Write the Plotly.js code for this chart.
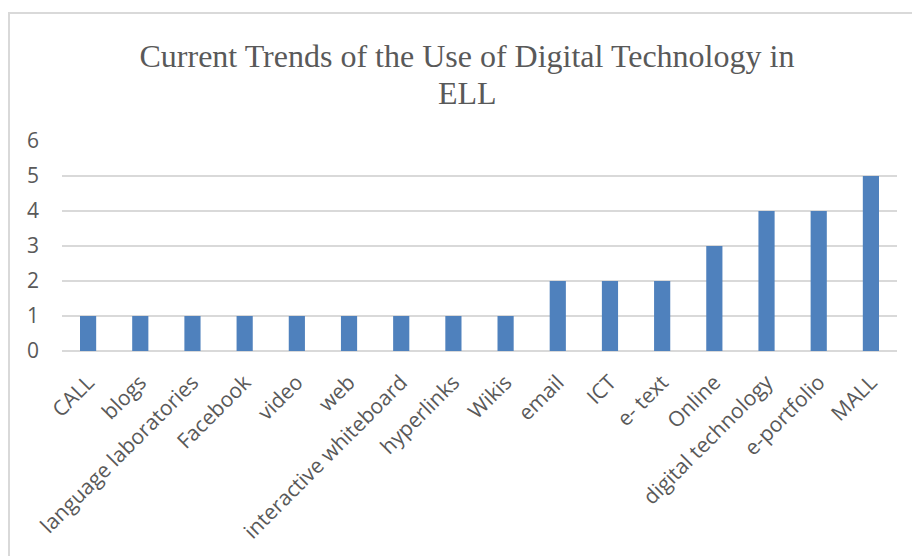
<!DOCTYPE html>
<html>
<head>
<meta charset="utf-8">
<script src="https://cdn.plot.ly/plotly-3.0.1.min.js"></script>
<style>
  html, body { margin: 0; padding: 0; background: #fff; }
  #wrap { position: relative; width: 912px; height: 556px; overflow: hidden; }
  #frame { position: absolute; left: 8px; top: 12px; width: 920px; height: 560px;
           border-left: 2px solid #d9d9d9; border-top: 2px solid #d9d9d9; pointer-events: none; }
  #chart { position: absolute; left: 0; top: 0; width: 912px; height: 556px; }
</style>
</head>
<body>
<div id="wrap">
  <div id="chart"></div>
  <div id="frame"></div>
</div>
<script>
const categories = ["CALL", "blogs", "language laboratories", "Facebook", "video", "web",
  "interactive whiteboard", "hyperlinks", "Wikis", "email", "ICT", "e- text", "Online",
  "digital technology", "e-portfolio", "MALL"];
const counts = [1, 1, 1, 1, 1, 1, 1, 1, 1, 2, 2, 2, 3, 4, 4, 5];
const yTicks = [0, 1, 2, 3, 4, 5, 6];
const titleLine1 = "Current Trends of the Use of Digital Technology in";
const titleLine2 = "ELL";

const titleFont = { family: "Liberation Serif, Times New Roman, serif", size: 32, color: "#595959" };
const xTickFont = { family: "Open Sans, sans-serif", size: 21, color: "#595959" };
const yTickFont = { family: "Open Sans, sans-serif", size: 21, color: "#595959" };

const trace = {
  type: "bar",
  x: categories,
  y: counts,
  marker: { color: "#4F81BD", line: { width: 0 } },
  hoverinfo: "x+y"
};

const layout = {
  width: 912,
  height: 556,
  paper_bgcolor: "rgba(0,0,0,0)",
  plot_bgcolor: "rgba(0,0,0,0)",
  margin: { l: 62, r: 15, t: 141, b: 205, pad: 0 },
  bargap: 0.69,
  showlegend: false,
  title: {
    text: titleLine1,
    font: titleFont,
    x: 0.512,
    xref: "container",
    xanchor: "center",
    y: 1 - 56 / 556,
    yref: "container",
    yanchor: "middle"
  },
  annotations: [{
    text: titleLine2,
    font: titleFont,
    xref: "paper",
    yref: "paper",
    x: (467 - 62) / 835,
    y: 1 + (141 - 93) / 210,
    xanchor: "center",
    yanchor: "middle",
    showarrow: false
  }],
  xaxis: {
    type: "category",
    tickangle: -45,
    tickfont: xTickFont,
    showgrid: false,
    showline: false,
    zeroline: false,
    ticks: "",
    ticklabelstandoff: 14,
    automargin: false
  },
  yaxis: {
    range: [0, 6],
    tickvals: yTicks,
    ticktext: yTicks.map(String),
    tickfont: yTickFont,
    showgrid: true,
    gridcolor: "#d9d9d9",
    gridwidth: 1.3,
    zeroline: true,
    zerolinecolor: "#d9d9d9",
    zerolinewidth: 1.3,
    showline: false,
    ticks: "",
    ticklabelstandoff: 22,
    automargin: false
  }
};

Plotly.newPlot("chart", [trace], layout, { displayModeBar: false, staticPlot: true });
</script>
</body>
</html>
